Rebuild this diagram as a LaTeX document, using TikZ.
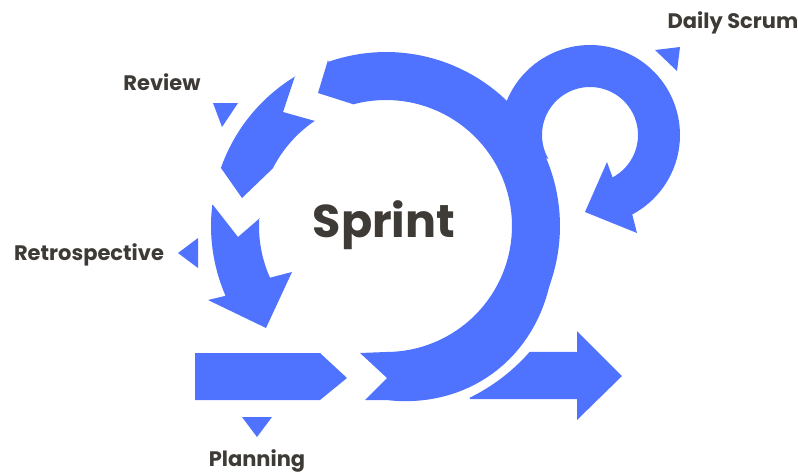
\documentclass[tikz,border=0pt]{standalone}
\usepackage{fontspec}
\setmainfont{Poppins}
\usepackage{tikz}
\definecolor{scrumblue}{RGB}{80,115,255}
\definecolor{labelgrey}{RGB}{62,58,53}

\begin{document}
\begin{tikzpicture}[x=1pt,y=-1pt,
    ring/.style={fill=scrumblue,draw=none},
    pointer/.style={fill=scrumblue,draw=none},
    lbl/.style={text=labelgrey,inner sep=0pt,anchor=base,font=\fontsize{21}{25}\selectfont\bfseries}]
        \useasboundingbox (0,0) rectangle (798,472);
        \fill[ring] (365,400) -- (387,378) -- (360,353) -- (386,352)
        -- plot[domain=90:-105,samples=70,variable=\t] ({386+126*cos(\t)},{226+126*sin(\t)})
        -- (318,93) -- (328,60)
        -- plot[domain=-109.3:90,samples=90,variable=\t] ({386+(174+8*sin(max(0,min(180,(\t-20)*18/7))))*cos(\t)},{226+(174+8*sin(max(0,min(180,(\t-20)*18/7))))*sin(\t)})
        -- cycle;
        \fill[ring] plot[domain=200:422,samples=70,variable=\t] ({590+90*cos(\t)},{135+90*sin(\t)})
        -- (637,233) -- (585,212) -- (607,162)
        -- plot[domain=422:150,samples=70,variable=\t] ({590+48*cos(\t)},{135+48*sin(\t)})
        -- (530,150) -- cycle;
        \fill[ring] (295,76) -- (283,112) -- (315,121)
        -- plot[domain=-124:-153,samples=20,variable=\t] ({386+127*cos(\t)},{226+127*sin(\t)})
        -- (242,198) -- (221,168)
        -- plot[domain=-160.6:-121.2,samples=25,variable=\t] ({386+175*cos(\t)},{226+175*sin(\t)})
        -- cycle;
        \fill[ring] (213,205) -- (238,237) -- (260,218)
        -- plot[domain=183.6:156,samples=20,variable=\t] ({386+127*cos(\t)},{226+127*sin(\t)})
        -- (292,272) -- (266,328) -- (208,300)
        -- plot[domain=156.5:187,samples=20,variable=\t] ({386+175*cos(\t)},{226+175*sin(\t)})
        -- cycle;
        \fill[ring] (195,353) -- (320,353) -- (347,378) -- (320,400) -- (195,400) -- cycle;
        \fill[ring] plot[domain=64:41.2,samples=20,variable=\t] ({386+191*cos(\t)},{226+191*sin(\t)})
        -- (577,352) -- (577,331) -- (622,376) -- (577,420) -- (577,399) -- (470,399) -- cycle;
        \fill[pointer] (213,103) -- (238,103) -- (222,127) -- cycle;
        \fill[pointer] (178,253) -- (198,238) -- (198,268) -- cycle;
        \fill[pointer] (242,417) -- (272,417) -- (257,437) -- cycle;
        \fill[pointer] (655,50) -- (680,47) -- (677,71) -- cycle;
        \node[lbl] (review) at (162,90) {Review};
        \node[lbl] (retro) at (89,260) {Retrospective};
        \node[lbl] (planning) at (257,466) {Planning};
        \node[lbl] (daily) at (733,28.5) {Daily Scrum};
        \node[lbl,font=\fontsize{46}{50}\selectfont\bfseries] (sprint) at (384,237) {Sprint};
\end{tikzpicture}
\end{document}
